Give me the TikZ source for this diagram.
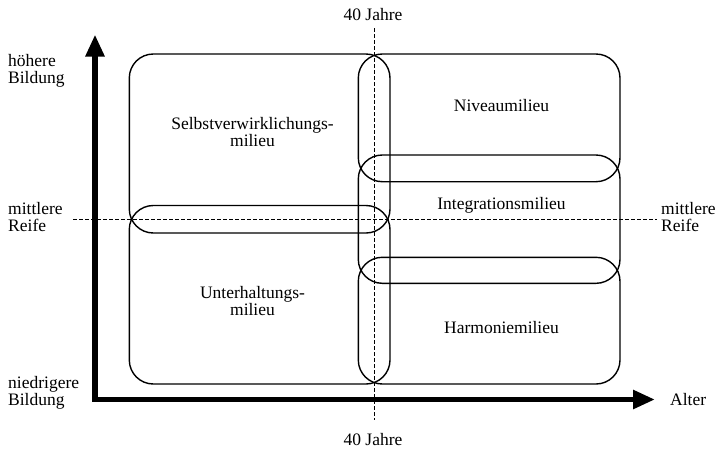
\documentclass[tikz,border=0pt]{standalone}
\usepackage{fontspec}
\setmainfont{Liberation Serif}
\usetikzlibrary{arrows.meta}
\tikzset{
  lbl/.style={font=\fontsize{17.5}{17}\selectfont, inner sep=0pt},
  milieu/.style={draw, line width=1.4pt, rounded corners=24pt},
  guide/.style={line width=1pt, dash pattern=on 3.5pt off 2.5pt},
  axis/.style={line width=5.5pt, line join=miter,
    {Triangle[length=22pt,width=18pt]}-{Triangle[length=22pt,width=18pt]}}
}
\begin{document}
\begin{tikzpicture}[x=1pt, y=-1pt]
\useasboundingbox (0,0) rectangle (718,448);

% guide lines
\coordinate (vt) at (374,28);
\coordinate (vb) at (374,420);
\coordinate (hl) at (73,219.3);
\coordinate (hr) at (657,219.3);
\draw[guide] (vt) -- (vb);
\draw[guide] (hl) -- (hr);

% milieu boxes
\draw[milieu] (129.3,54) rectangle (390,233);
\draw[milieu] (129.3,205.5) rectangle (390,384);
\draw[milieu] (358.3,54) rectangle (620,181.7);
\draw[milieu] (358.3,155) rectangle (620,283.3);
\draw[milieu] (358.3,257.3) rectangle (620,384);

% axes
\coordinate (ytip) at (95,34.5);
\coordinate (orig) at (95,399.5);
\coordinate (xtip) at (655,399.5);
\draw[axis] (ytip) -- (orig) -- (xtip);

% box labels
\node[lbl, align=center] (tS) at (252.5,132.5) {Selbstverwirklichungs-\\milieu};
\node[lbl, align=center] (tU) at (252.5,301.5) {Unterhaltungs-\\milieu};
\node[lbl, anchor=base] (tN) at (501.5,111.7) {Niveaumilieu};
\node[lbl, anchor=base] (tI) at (501.5,209.5) {Integrationsmilieu};
\node[lbl, anchor=base] (tH) at (501.5,333) {Harmoniemilieu};

% axis labels
\node[lbl, align=left, anchor=west] (hb) at (8,70.4) {höhere\\Bildung};
\node[lbl, align=left, anchor=west] (mrl) at (8,217.5) {mittlere\\Reife};
\node[lbl, align=left, anchor=west] (nb) at (8,392.7) {niedrigere\\Bildung};
\node[lbl, align=left, anchor=west] (mrr) at (661,217.5) {mittlere\\Reife};
\node[lbl, anchor=base west] (alt) at (670,405) {Alter};
\node[lbl, anchor=base] (j1) at (373,20) {40 Jahre};
\node[lbl, anchor=base] (j2) at (373,445) {40 Jahre};
\end{tikzpicture}
\end{document}
